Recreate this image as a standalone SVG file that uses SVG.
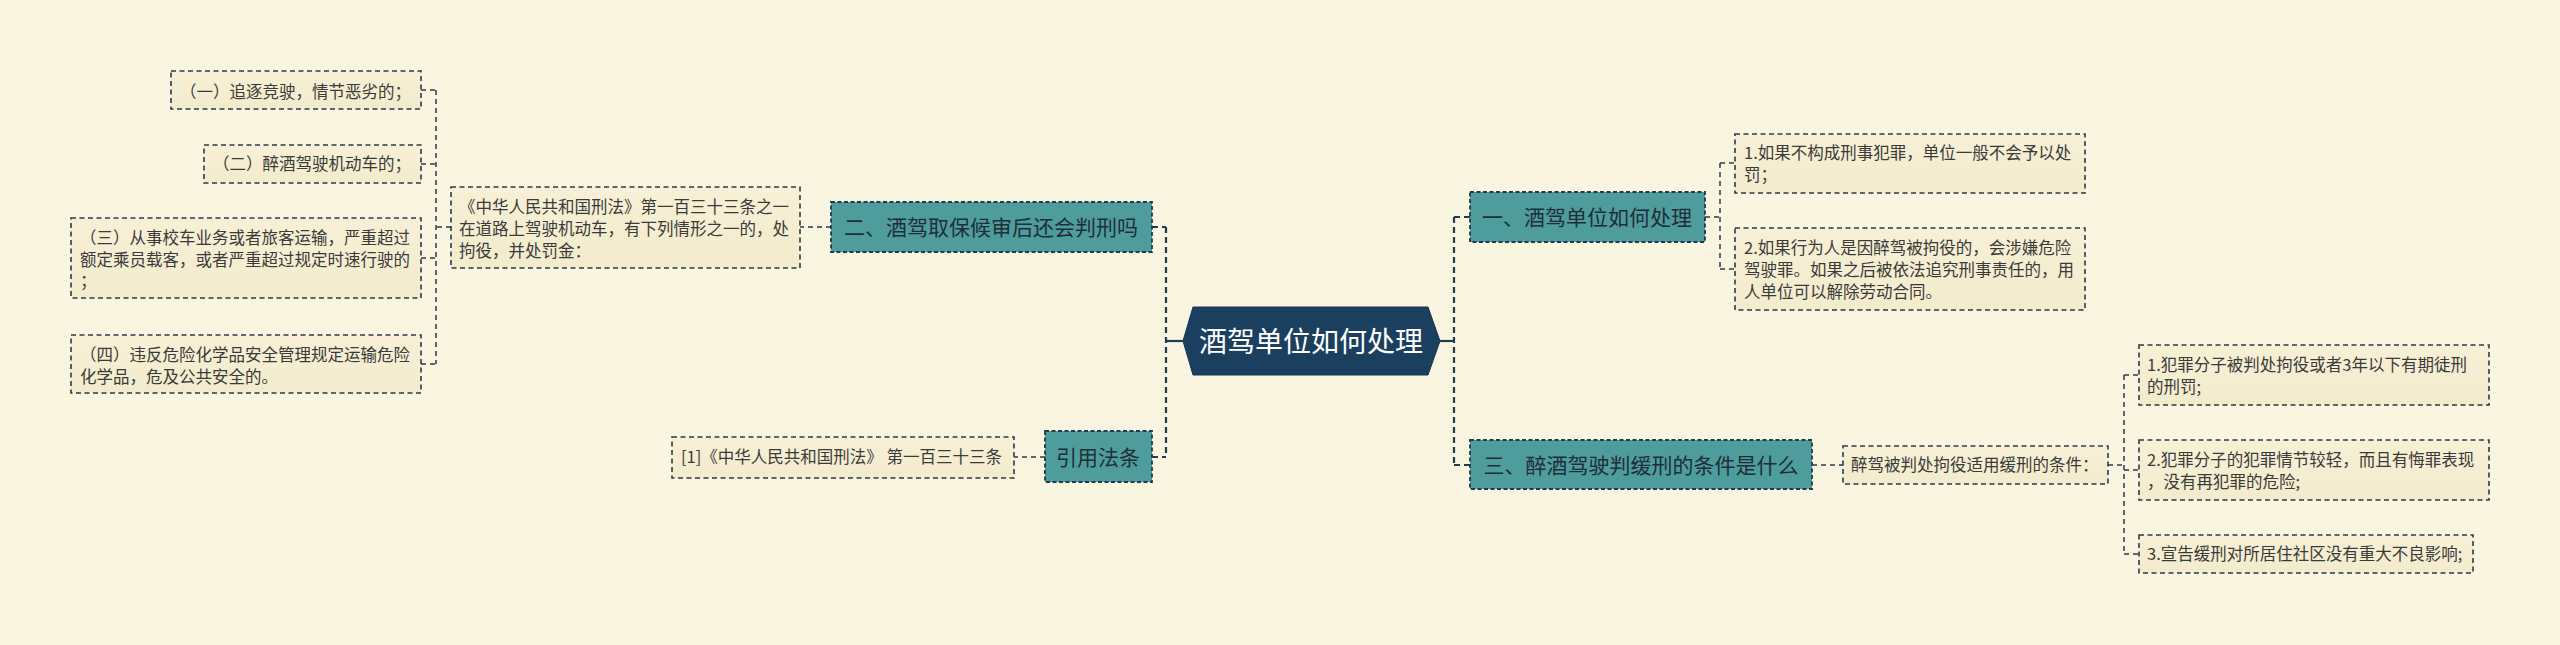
<svg xmlns="http://www.w3.org/2000/svg" width="2560" height="645" viewBox="0 0 2560 645">
<defs>
<linearGradient id="leafg" x1="0" y1="0" x2="0" y2="1">
<stop offset="0" stop-color="#F7F0D6"/>
<stop offset="1" stop-color="#F3EBCC"/>
</linearGradient>
<style>
.leaf{fill:url(#leafg);stroke:#2B3B4A;stroke-width:1.6;stroke-dasharray:5 3.5}
.topic{fill:#4E9C9C;stroke:#1F3B4D;stroke-width:1.8;stroke-dasharray:4 2.5}
.lt{font-family:"Noto Sans CJK SC","Noto Sans",sans-serif;font-size:16.5px;fill:#3A3A3A}
.tt{font-family:"Noto Sans CJK SC","Noto Sans",sans-serif;font-size:21px;fill:#1E2E3A;text-anchor:middle}
.ct{font-family:"Noto Sans CJK SC","Noto Sans",sans-serif;font-size:28px;fill:#FFFFFF;text-anchor:middle}
.c1{fill:none;stroke:#1F3B4D;stroke-width:2.2;stroke-dasharray:6 4}
.c2{fill:none;stroke:#2B3B4A;stroke-width:1.5;stroke-dasharray:5 4}
.cs{fill:none;stroke:#1F3B4D;stroke-width:2.2}
</style>
</defs>
<rect x="0" y="0" width="2560" height="645" fill="#FAF5E1"/>

<g id="connectors">
<path class="c1" d="M1166 227 V457 M1152 227 H1166 M1152 457 H1166"/>
<path class="cs" d="M1166 341 H1183"/>
<path class="c1" d="M1454 217 V465 M1454 217 H1470 M1454 465 H1470"/>
<path class="cs" d="M1440 341 H1454"/>
<path class="c2" d="M831 227 H800"/>
<path class="c2" d="M451 227 H436 M436 90 V364 M421 90 H436 M421 164 H436 M421 258 H436 M421 364 H436"/>
<path class="c2" d="M1045 457 H1014"/>
<path class="c2" d="M1705 217 H1720 M1720 163 V269 M1720 163 H1735 M1720 269 H1735"/>
<path class="c2" d="M1812 465 H1843"/>
<path class="c2" d="M2108 465 H2124 M2124 375 V554 M2124 375 H2139 M2124 470 H2139 M2124 554 H2139"/>
</g>

<g id="center">
<polygon points="1183,341 1193,307 1428,307 1440,341 1428,375 1193,375" fill="#1B3F5E" stroke="#163550" stroke-width="1"/>
<text class="ct" x="1311" y="352">酒驾单位如何处理</text>
</g>

<g id="topic2">
<rect class="topic" x="831" y="202" width="321" height="50"/>
<text class="tt" x="991" y="235">二、酒驾取保候审后还会判刑吗</text>
</g>

<g id="topic-ref">
<rect class="topic" x="1045" y="431" width="107" height="51"/>
<text class="tt" x="1098" y="465">引用法条</text>
</g>

<g id="topic1">
<rect class="topic" x="1470" y="192" width="235" height="50"/>
<text class="tt" x="1587" y="225">一、酒驾单位如何处理</text>
</g>

<g id="topic3">
<rect class="topic" x="1470" y="440" width="342" height="49"/>
<text class="tt" x="1641" y="473">三、醉酒驾驶判缓刑的条件是什么</text>
</g>

<g id="law-article">
<rect class="leaf" x="451" y="187" width="349" height="81"/>
<text class="lt" x="459" y="213">《中华人民共和国刑法》第一百三十三条之一</text>
<text class="lt" x="459" y="235">在道路上驾驶机动车，有下列情形之一的，处</text>
<text class="lt" x="459" y="257">拘役，并处罚金：</text>
</g>

<g id="item1">
<rect class="leaf" x="171" y="71" width="250" height="38"/>
<text class="lt" x="180" y="98">（一）追逐竞驶，情节恶劣的；</text>
</g>

<g id="item2">
<rect class="leaf" x="204" y="145" width="217" height="38"/>
<text class="lt" x="213" y="170">（二）醉酒驾驶机动车的；</text>
</g>

<g id="item3">
<rect class="leaf" x="71" y="218" width="350" height="80"/>
<text class="lt" x="80" y="244">（三）从事校车业务或者旅客运输，严重超过</text>
<text class="lt" x="80" y="265.5">额定乘员载客，或者严重超过规定时速行驶的</text>
<text class="lt" x="80" y="287">；</text>
</g>

<g id="item4">
<rect class="leaf" x="71" y="335" width="350" height="58"/>
<text class="lt" x="80" y="361">（四）违反危险化学品安全管理规定运输危险</text>
<text class="lt" x="80" y="382.5">化学品，危及公共安全的。</text>
</g>

<g id="ref1">
<rect class="leaf" x="672" y="437" width="342" height="41"/>
<text class="lt" x="681" y="463">[1]《中华人民共和国刑法》 第一百三十三条</text>
</g>

<g id="t1-c1">
<rect class="leaf" x="1735" y="134" width="350" height="59"/>
<text class="lt" x="1744" y="159">1.如果不构成刑事犯罪，单位一般不会予以处</text>
<text class="lt" x="1744" y="181">罚；</text>
</g>

<g id="t1-c2">
<rect class="leaf" x="1735" y="228" width="350" height="82"/>
<text class="lt" x="1744" y="254">2.如果行为人是因醉驾被拘役的，会涉嫌危险</text>
<text class="lt" x="1744" y="276">驾驶罪。如果之后被依法追究刑事责任的，用</text>
<text class="lt" x="1744" y="298">人单位可以解除劳动合同。</text>
</g>

<g id="t3-c1">
<rect class="leaf" x="1843" y="446" width="265" height="38"/>
<text class="lt" x="1851" y="471">醉驾被判处拘役适用缓刑的条件：</text>
</g>

<g id="t3-g1">
<rect class="leaf" x="2139" y="345" width="350" height="60"/>
<text class="lt" x="2147" y="371">1.犯罪分子被判处拘役或者3年以下有期徒刑</text>
<text class="lt" x="2147" y="393">的刑罚;</text>
</g>

<g id="t3-g2">
<rect class="leaf" x="2139" y="440" width="350" height="60"/>
<text class="lt" x="2147" y="466">2.犯罪分子的犯罪情节较轻，而且有悔罪表现</text>
<text class="lt" x="2147" y="488">，没有再犯罪的危险;</text>
</g>

<g id="t3-g3">
<rect class="leaf" x="2139" y="535" width="334" height="38"/>
<text class="lt" x="2147" y="560">3.宣告缓刑对所居住社区没有重大不良影响;</text>
</g>
</svg>
